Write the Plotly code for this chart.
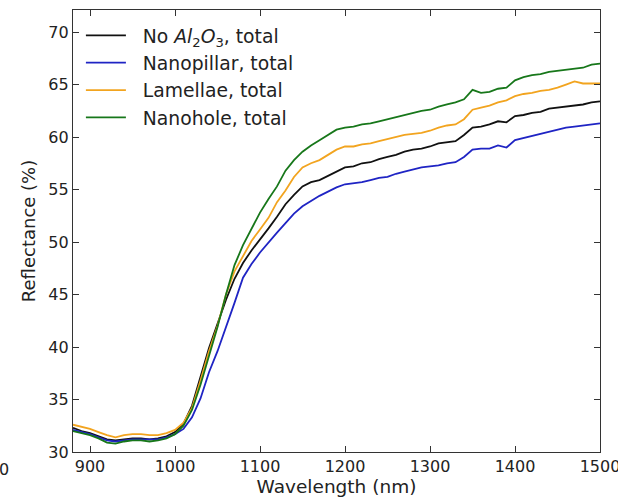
import plotly.graph_objects as go

wavelength = [880, 890, 900, 910, 920, 930, 940, 950, 960, 970, 980, 990,
              1000, 1010, 1020, 1030, 1040, 1050, 1060, 1070, 1080, 1090,
              1100, 1110, 1120, 1130, 1140, 1150, 1160, 1170, 1180, 1190,
              1200, 1210, 1220, 1230, 1240, 1250, 1260, 1270, 1280, 1290,
              1300, 1310, 1320, 1330, 1340, 1350, 1360, 1370, 1380, 1390,
              1400, 1410, 1420, 1430, 1440, 1450, 1460, 1470, 1480, 1490, 1500]

no_al2o3 = [32.3, 32.0, 31.8, 31.5, 31.2, 31.1, 31.2, 31.3, 31.3, 31.2, 31.3, 31.5,
            31.9, 32.7, 34.4, 37.1, 39.9, 42.2, 44.5, 46.5, 48.0, 49.2,
            50.2, 51.3, 52.4, 53.6, 54.5, 55.3, 55.7, 55.9, 56.3, 56.7,
            57.1, 57.2, 57.5, 57.6, 57.9, 58.1, 58.3, 58.6, 58.8, 58.9,
            59.1, 59.4, 59.5, 59.6, 60.2, 60.9, 61.0, 61.2, 61.5, 61.4,
            62.0, 62.1, 62.3, 62.4, 62.7, 62.8, 62.9, 63.0, 63.1, 63.3, 63.4]

nanopillar = [32.1, 31.9, 31.7, 31.4, 31.1, 31.0, 31.1, 31.2, 31.2, 31.2, 31.2, 31.4,
              31.7, 32.2, 33.3, 35.1, 37.6, 39.6, 41.8, 44.2, 46.6, 47.9,
              49.0, 50.0, 50.9, 51.8, 52.7, 53.4, 53.9, 54.4, 54.8, 55.2,
              55.5, 55.6, 55.7, 55.9, 56.1, 56.2, 56.5, 56.7, 56.9, 57.1,
              57.2, 57.3, 57.5, 57.6, 58.1, 58.8, 58.9, 58.9, 59.2, 59.0,
              59.7, 59.9, 60.1, 60.3, 60.5, 60.7, 60.9, 61.0, 61.1, 61.2, 61.3]

lamellae = [32.6, 32.4, 32.2, 31.9, 31.6, 31.4, 31.6, 31.7, 31.7, 31.6, 31.6, 31.8,
            32.1, 32.8, 34.2, 36.8, 39.6, 42.0, 45.0, 47.2, 48.7, 50.1,
            51.2, 52.3, 53.8, 54.9, 56.2, 57.1, 57.5, 57.8, 58.3, 58.8,
            59.1, 59.1, 59.3, 59.4, 59.6, 59.8, 60.0, 60.2, 60.3, 60.4,
            60.6, 60.9, 61.1, 61.2, 61.7, 62.6, 62.8, 63.0, 63.3, 63.5,
            63.9, 64.1, 64.2, 64.4, 64.5, 64.7, 65.0, 65.3, 65.1, 65.1, 65.1]

nanohole = [32.0, 31.8, 31.6, 31.3, 30.9, 30.8, 31.0, 31.1, 31.1, 31.0, 31.1, 31.3,
            31.7, 32.5, 34.0, 36.4, 39.2, 41.9, 45.0, 47.8, 49.7, 51.2,
            52.8, 54.1, 55.3, 56.8, 57.8, 58.6, 59.2, 59.7, 60.2, 60.7,
            60.9, 61.0, 61.2, 61.3, 61.5, 61.7, 61.9, 62.1, 62.3, 62.5,
            62.6, 62.9, 63.1, 63.3, 63.6, 64.5, 64.2, 64.3, 64.6, 64.7,
            65.4, 65.7, 65.9, 66.0, 66.2, 66.3, 66.4, 66.5, 66.6, 66.9, 67.0]

series_names = ["No <i>Al</i><sub>2</sub><i>O</i><sub>3</sub>, total",
                "Nanopillar, total", "Lamellae, total", "Nanohole, total"]
series_values = [no_al2o3, nanopillar, lamellae, nanohole]
series_colors = ["#111111", "#1f24c4", "#f2a41f", "#17771a"]

x_ticks = [900, 1000, 1100, 1200, 1300, 1400, 1500]
y_ticks = [30, 35, 40, 45, 50, 55, 60, 65, 70]

FONT = "DejaVu Sans"
PAD = "\u00a0\u00a0"

fig = go.Figure()
for name, vals, col in zip(series_names, series_values, series_colors):
    fig.add_trace(go.Scatter(x=wavelength, y=vals, mode="lines", name=PAD + name,
                             line=dict(color=col, width=1.8)))

axis_common = dict(showgrid=False, zeroline=False, showline=True, linecolor="#333333",
                   linewidth=1.2, mirror="allticks", ticks="inside", ticklen=6,
                   tickwidth=1, tickcolor="#333333", automargin=False,
                   ticklabeloverflow="allow",
                   tickfont=dict(family=FONT, size=16, color="#222222"))

fig.update_layout(
    width=618, height=498,
    margin=dict(l=73, r=18, t=10, b=46),
    paper_bgcolor="white", plot_bgcolor="white",
    font=dict(family=FONT, color="#222222"),
    xaxis=dict(range=[880, 1500], tickvals=x_ticks,
               title=dict(text="Wavelength (nm)", font=dict(family=FONT, size=18.5), standoff=4),
               **axis_common),
    yaxis=dict(range=[30, 72.1], tickvals=y_ticks,
               title=dict(text="Reflectance (%)", font=dict(family=FONT, size=18), standoff=8),
               **axis_common),
    legend=dict(x=0.015, y=0.985, xanchor="left", yanchor="top",
                bgcolor="rgba(0,0,0,0)", borderwidth=0,
                font=dict(family=FONT, size=18.75, color="#222222"),
                itemwidth=40, tracegroupgap=0),
    showlegend=True,
)

fig.add_annotation(text="0", xref="paper", yref="paper", x=-0.13, y=-0.013,
                   xanchor="center", yanchor="top", showarrow=False,
                   font=dict(family=FONT, size=16, color="#222222"))

fig.write_html("out.html", config={"displayModeBar": False},
               post_script="document.body.style.margin='0px';")
